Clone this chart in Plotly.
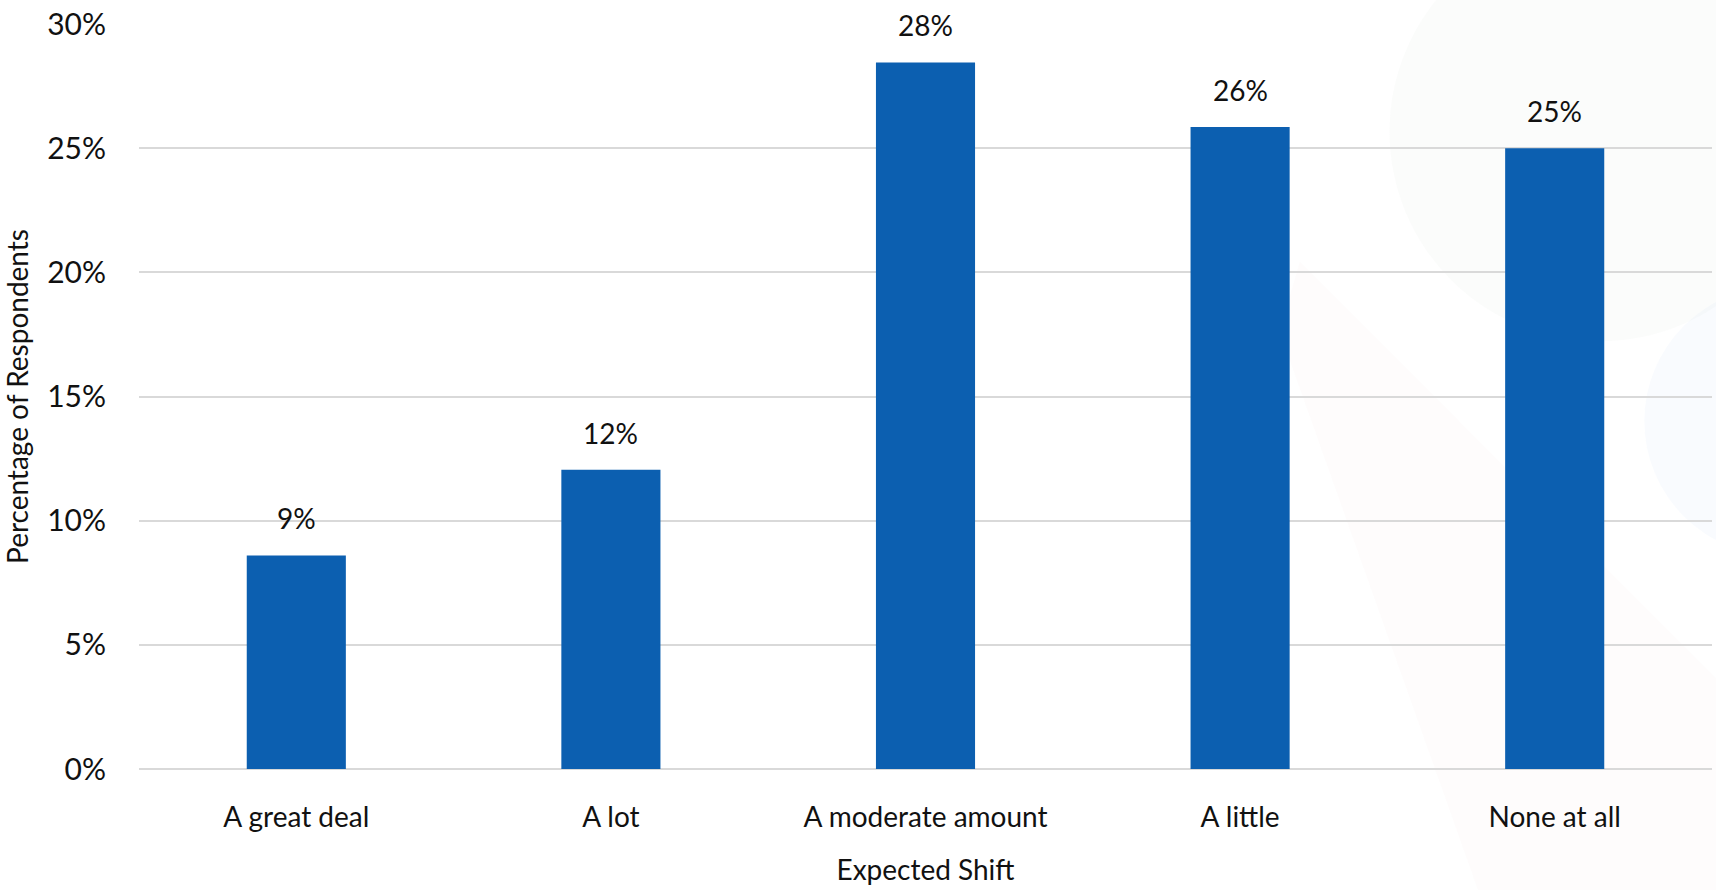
import plotly.graph_objects as go

categories = ["A great deal", "A lot", "A moderate amount", "A little", "None at all"]
values = [8.6, 12.05, 28.45, 25.85, 25.0]
value_labels = ["9%", "12%", "28%", "26%", "25%"]
y_tickvals = [0, 5, 10, 15, 20, 25, 30]
y_ticktext = ["0%", "5%", "10%", "15%", "20%", "25%", "30%"]

FONT = "Lato, 'Open Sans', sans-serif"
BAR_COLOR = "#0C5FB0"
TEXT = "#111111"

fig = go.Figure()
fig.add_trace(go.Bar(
    x=categories, y=values, marker=dict(color=BAR_COLOR, line=dict(width=0)),
    width=0.315, hoverinfo="x+y",
))

for c, v, t in zip(categories, values, value_labels):
    fig.add_annotation(x=c, y=v, text=t, showarrow=False, yanchor="bottom",
                       yshift=18, font=dict(family=FONT, size=28, color=TEXT))

# faint watermark shapes in background
fig.add_shape(type="circle", xref="paper", yref="paper", layer="below",
              x0=0.795, x1=1.062, y0=0.574, y1=1.137,
              fillcolor="rgba(215,225,210,0.09)", line=dict(width=0))
fig.add_shape(type="path", xref="paper", yref="paper", layer="below",
              path="M 0.738 0.681 L 1.01 0.106 L 1.01 -0.17 L 0.8525 -0.17 L 0.725 0.588 Z",
              fillcolor="rgba(245,205,205,0.06)", line=dict(width=0))
fig.add_shape(type="circle", xref="paper", yref="paper", layer="below",
              x0=0.957, x1=1.129, y0=0.286, y1=0.648,
              fillcolor="rgba(205,225,245,0.12)", line=dict(width=0))

fig.update_layout(
    width=1716, height=890,
    margin=dict(l=139, r=4, t=22, b=121),
    plot_bgcolor="rgba(0,0,0,0)", paper_bgcolor="white",
    showlegend=False,
    bargap=0.685,
    font=dict(family=FONT, size=28, color=TEXT),
    xaxis=dict(
        title=dict(text="Expected Shift", font=dict(family=FONT, size=28, color=TEXT), standoff=28),
        tickfont=dict(family=FONT, size=28, color=TEXT),
        showgrid=False, showline=False, zeroline=False, ticks="",
        ticklabelstandoff=29,
    ),
    yaxis=dict(
        title=dict(text="Percentage of Respondents", font=dict(family=FONT, size=28, color=TEXT), standoff=17),
        range=[0, 30], tickvals=y_tickvals, ticktext=y_ticktext,
        tickfont=dict(family=FONT, size=30, color=TEXT),
        showgrid=True, gridcolor="#d9d9d9", gridwidth=1.5,
        zeroline=True, zerolinecolor="#d9d9d9", zerolinewidth=1.5,
        showline=False, ticks="", ticklabelstandoff=32,
    ),
)

fig.write_html("out.html", config={"displayModeBar": False},
               post_script="document.body.style.margin='0';")
